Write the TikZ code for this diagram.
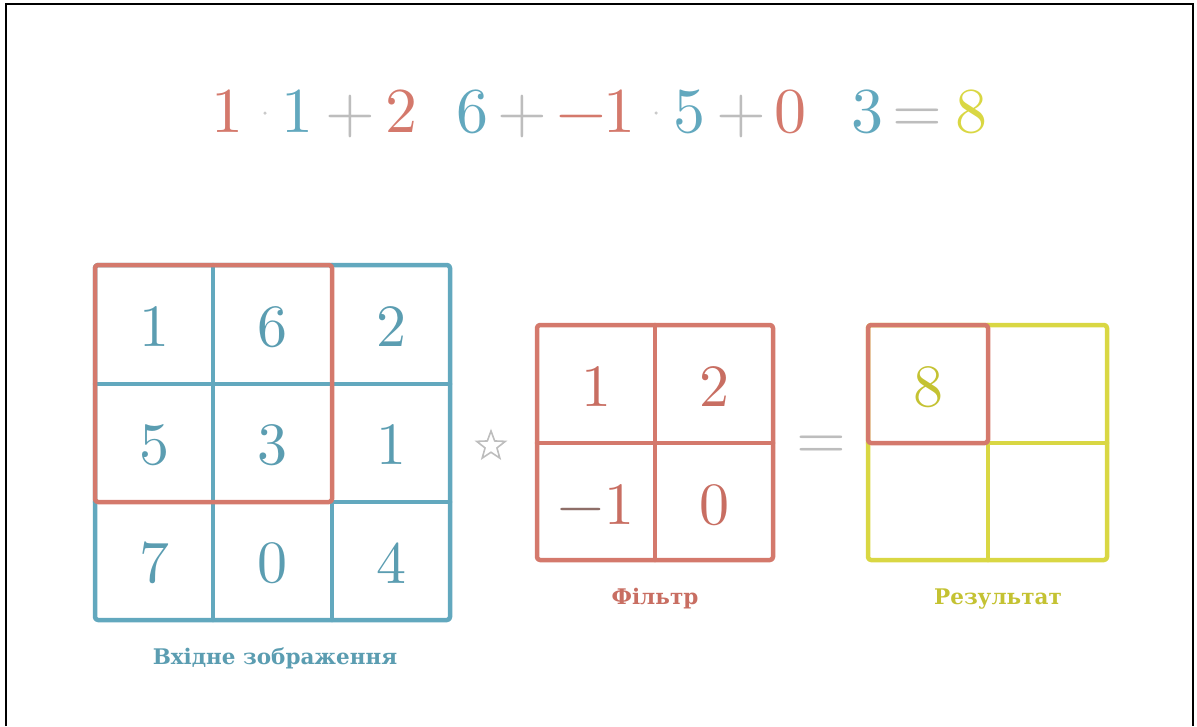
\documentclass[tikz,border=0pt]{standalone}
\usepackage{fontspec}
\newfontfamily\labfont{DejaVu Serif}
\newfontfamily\numfont[Extension=.otf]{lmroman10-regular}
\usetikzlibrary{shapes.geometric}
\definecolor{cblue}{HTML}{62A8BE}
\definecolor{cred}{HTML}{D4796C}
\definecolor{cyel}{HTML}{D9D743}
\definecolor{cgray}{HTML}{BDBDBD}
\definecolor{cdblue}{HTML}{5B9DB1}
\definecolor{cdred}{HTML}{C86E62}
\definecolor{cdyel}{HTML}{C4C232}
\definecolor{cminus}{HTML}{8E6E68}
\tikzset{
  gridline/.style={line width=4.5pt, line cap=round, line join=round},
  numtext/.style={font=\numfont\fontsize{60}{60}\selectfont, inner sep=0pt},
  eqtext/.style={font=\numfont\fontsize{64}{64}\selectfont, inner sep=0pt, anchor=base},
  labeltext/.style={font=\labfont\bfseries\fontsize{21.5}{22}\selectfont, inner sep=0pt, anchor=base},
  dotmark/.style={circle, fill=cgray!80, inner sep=0pt, minimum size=3.5pt},
}
\begin{document}
\begin{tikzpicture}[x=1pt,y=-1pt]
\useasboundingbox (0,0) rectangle (1197,726);
% frame
\draw[line width=2.2pt, black] (6,726) -- (6,4) -- (1193,4) -- (1193,726);

% equation
\node[eqtext, text=cred]  (e1) at (227,132) {1};
\node[dotmark]            (d1) at (265,113) {};
\node[eqtext, text=cblue] (e2) at (297,132) {1};
\node[eqtext, text=cgray] (p1) at (350,132) {+};
\node[eqtext, text=cred]  (e3) at (401,132) {2};
\node[eqtext, text=cblue] (e4) at (472,132) {6};
\node[eqtext, text=cgray] (p2) at (522,132) {+};
\node[eqtext, text=cred]  (m1) at (581,132) {−};
\node[eqtext, text=cred]  (e5) at (619,132) {1};
\node[dotmark]            (d2) at (656,113) {};
\node[eqtext, text=cblue] (e6) at (689,132) {5};
\node[eqtext, text=cgray] (p3) at (741,132) {+};
\node[eqtext, text=cred]  (e7) at (790,132) {0};
\node[eqtext, text=cblue] (e8) at (867,132) {3};
\node[eqtext, text=cgray] (q1) at (917,132) {=};
\node[eqtext, text=cyel]  (e9) at (971,132) {8};

% input image grid
\draw[gridline, cblue, rounded corners=3pt] (95,265) rectangle (450,620);
\draw[gridline, cblue] (213,265) -- (213,620);
\draw[gridline, cblue] (332,265) -- (332,620);
\draw[gridline, cblue] (95,384) -- (450,384);
\draw[gridline, cblue] (95,502) -- (450,502);
\draw[gridline, cred, rounded corners=3pt] (95,265) -- (95,502) -- (332,502) -- (332,265) -- cycle;
\node[numtext, text=cdblue] (a11) at (154,327) {1};
\node[numtext, text=cdblue] (a12) at (272,327) {6};
\node[numtext, text=cdblue] (a13) at (391,327) {2};
\node[numtext, text=cdblue] (a21) at (154,445) {5};
\node[numtext, text=cdblue] (a22) at (272,445) {3};
\node[numtext, text=cdblue] (a23) at (391,445) {1};
\node[numtext, text=cdblue] (a31) at (154,563) {7};
\node[numtext, text=cdblue] (a32) at (272,563) {0};
\node[numtext, text=cdblue] (a33) at (391,563) {4};
\node[labeltext, text=cdblue] (lin) at (275,664) {Вхідне зображення};

% star operator
\node[star, star points=5, star point ratio=2.4, draw=cgray, line width=1.6pt,
      minimum size=30pt, inner sep=0pt] (conv) at (491,446) {};

% filter grid
\draw[gridline, cred, rounded corners=3pt] (537,325) rectangle (773,560);
\draw[gridline, cred] (655,325) -- (655,560);
\draw[gridline, cred] (537,443) -- (773,443);
\node[numtext, text=cdred] (f11) at (596,387) {1};
\node[numtext, text=cdred] (f12) at (714,387) {2};
\node[numtext] (f21) at (596,505) {\textcolor{cminus}{−}\textcolor{cdred}{1}};
\node[numtext, text=cdred] (f22) at (714,505) {0};
\node[labeltext, text=cdred] (lf) at (655,604) {Фільтр};

% equals
\node[eqtext, text=cgray] (q2) at (821,459) {=};

% result grid
\draw[gridline, cyel, rounded corners=3pt] (868,325) rectangle (1107,560);
\draw[gridline, cyel] (988,325) -- (988,560);
\draw[gridline, cyel] (868,443) -- (1107,443);
\draw[gridline, cred, rounded corners=3pt] (868,443) -- (868,325) -- (988,325) -- (988,443) -- cycle;
\node[numtext, text=cdyel] (r11) at (928,387) {8};
\node[labeltext, text=cdyel] (lr) at (998,604) {Результат};
\end{tikzpicture}
\end{document}
